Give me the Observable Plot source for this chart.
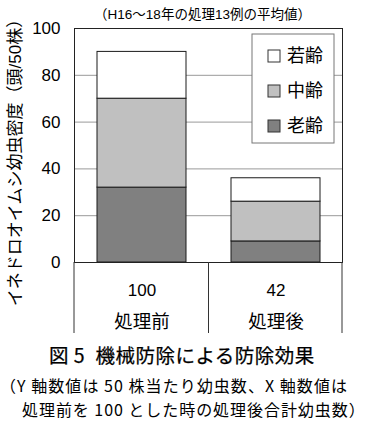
<!DOCTYPE html>
<html><head><meta charset="utf-8">
<script src="https://cdn.jsdelivr.net/npm/d3@7"></script>
<script src="https://cdn.jsdelivr.net/npm/@observablehq/plot@0.6"></script>
<style>
body{margin:0;background:#fff;}
#wrap{position:relative;width:365px;height:423px;background:#fff;color:#000;font-family:"Noto Sans CJK JP","Liberation Sans",sans-serif;overflow:hidden;}
#chart{position:absolute;left:0;top:0;}
.cap{position:absolute;white-space:pre;line-height:1;}
#t1{left:49px;top:345px;font-size:19.5px;font-weight:400;-webkit-text-stroke:0.25px #000;letter-spacing:0.5px;}
#t2{left:0;top:377px;font-size:16px;letter-spacing:1.05px;}
#t3{left:22px;top:401px;font-size:16px;letter-spacing:0.95px;}
</style></head>
<body><div id="wrap"><div id="chart"></div>
<div class="cap" id="t1"></div><div class="cap" id="t2"></div><div class="cap" id="t3"></div></div>
<script>
// ---- data ----
const categories = ["処理前", "処理後"];
const indexValues = [100, 42];           // x-axis numbers (処理前=100)
const stages = ["老齢", "中齢", "若齢"];   // stacking order, bottom to top
const legendOrder = ["若齢", "中齢", "老齢"];
const rouRei = [32, 9];    // 老齢
const chuRei = [38, 17];   // 中齢
const jakuRei = [20, 10];  // 若齢
const stageColors = ["#808080", "#c0c0c0", "#ffffff"];
const yTicks = [0, 20, 40, 60, 80, 100];
const gridTicks = [20, 40, 60, 80];
const yLabel = "イネドロオイムシ幼虫密度（頭/50株）";
const subtitle = "（H16～18年の処理13例の平均値）";
const captionTitle = "図 5\u2002機械防除による防除効果";
const captionLine1 = "（Y 軸数値は 50 株当たり幼虫数、X 軸数値は";
const captionLine2 = "処理前を 100 とした時の処理後合計幼虫数）";

const series = [rouRei, chuRei, jakuRei];
const rows = [];
stages.forEach((s, si) => categories.forEach((c, ci) => rows.push({cat: c, stage: s, value: series[si][ci]})));

const latin = '"Liberation Sans","Noto Sans CJK JP",sans-serif';
const cjk = '"Noto Sans CJK JP",sans-serif';

function dividers(index, scales, values, dim) {
  const {width, height, marginLeft, marginRight, marginBottom} = dim;
  const x = scales.x;
  const bw = typeof x.bandwidth === "function" ? x.bandwidth() : 0;
  const mid = (x(categories[0]) + x(categories[1]) + bw) / 2;
  const y0 = height - marginBottom;
  const g = d3.create("svg:g").attr("stroke", "#333").attr("stroke-width", 1);
  for (const xv of [marginLeft, mid, width - marginRight]) {
    g.append("line").attr("x1", xv).attr("x2", xv).attr("y1", y0).attr("y2", y0 + 71);
  }
  return g.node();
}

function legend(index, scales, values, dim) {
  const {width, marginRight, marginTop} = dim;
  const bx = width - marginRight - 90, by = marginTop + 6, bwid = 82, bh = 109;
  const g = d3.create("svg:g");
  g.append("rect").attr("x", bx).attr("y", by).attr("width", bwid).attr("height", bh)
    .attr("fill", "#fff").attr("stroke", "#777");
  legendOrder.forEach((s, i) => {
    const cy = by + 22 + i * 35;
    g.append("rect").attr("x", bx + 16).attr("y", cy - 6).attr("width", 12).attr("height", 12)
      .attr("fill", scales.color(s)).attr("stroke", "#333");
    g.append("text").attr("x", bx + 35).attr("y", cy).attr("dy", "0.36em")
      .attr("text-anchor", "start")
      .attr("font-family", cjk).attr("font-size", 18).attr("fill", "#000").text(s);
  });
  return g.node();
}

const chart = Plot.plot({
  width: 365, height: 340,
  marginTop: 28, marginBottom: 78, marginLeft: 74, marginRight: 23,
  style: {fontFamily: latin, fontSize: "17px", background: "#fff", color: "#000", overflow: "visible"},
  x: {domain: categories, paddingInner: 0.336, paddingOuter: 0.168, axis: null},
  y: {domain: [0, 100], axis: null},
  color: {domain: stages, range: stageColors},
  marks: [
    Plot.ruleY(gridTicks, {stroke: "#999", strokeWidth: 1}),
    Plot.axisY({ticks: yTicks, tickSize: 0, tickPadding: 14, label: null, fontSize: 17, fontFamily: latin}),
    Plot.barY(rows, {x: "cat", y: "value", fill: "stage", stroke: "#1a1a1a", strokeWidth: 1}),
    legend,
    Plot.frame({stroke: "#222"}),
    dividers,
    Plot.text(categories, {x: d => d, text: (d, i) => String(indexValues[i]), frameAnchor: "bottom", lineAnchor: "middle", dy: 28, fontSize: 17, fontFamily: latin}),
    Plot.text(categories, {x: d => d, text: d => d, frameAnchor: "bottom", lineAnchor: "middle", dy: 60, fontSize: 18.5, fontFamily: cjk}),
    Plot.text([yLabel], {text: d => d, frameAnchor: "left", textAnchor: "middle", lineAnchor: "middle", rotate: -90, dx: -59, dy: 13, fontSize: 17, fontFamily: latin}),
    Plot.text([subtitle], {text: d => d, frameAnchor: "top", textAnchor: "middle", lineAnchor: "middle", dx: -6, dy: -14, fontSize: 13.5, fontFamily: latin})
  ]
});
document.getElementById("chart").appendChild(chart);
document.getElementById("t1").textContent = captionTitle;
document.getElementById("t2").textContent = captionLine1;
document.getElementById("t3").textContent = captionLine2;
</script>
</body></html>
